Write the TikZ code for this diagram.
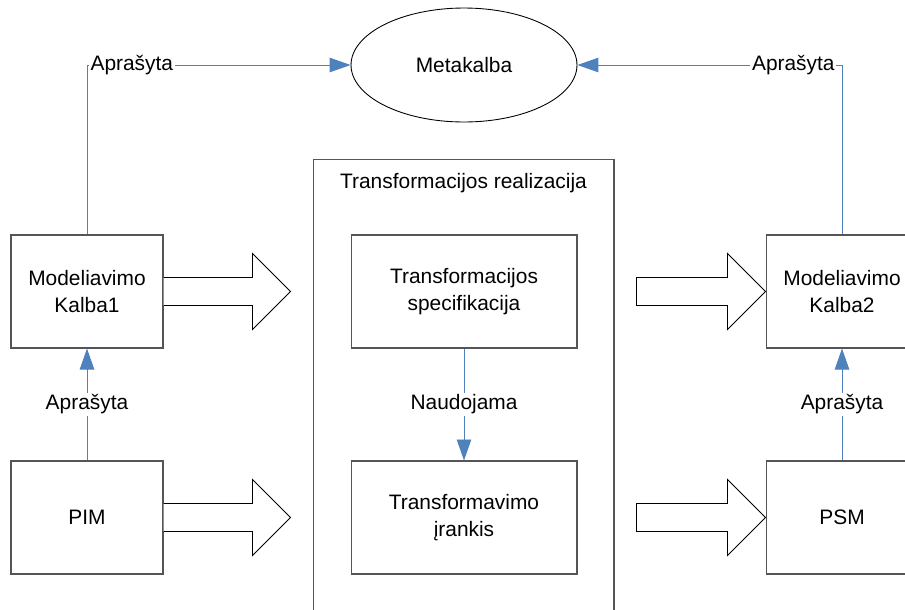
\documentclass[tikz,border=0pt]{standalone}
\usepackage{fontspec}
\setmainfont{Liberation Sans}
\usepackage{xcolor}
\usepackage{tikz}
\usetikzlibrary{arrows.meta,positioning,calc,shapes.geometric}
\definecolor{linkblue}{RGB}{79,129,189}
\definecolor{boxgray}{RGB}{85,85,85}

\begin{document}
\begin{tikzpicture}[x=0.02cm,y=-0.02cm,
  font=\fontsize{11.9}{15.3}\selectfont,
  box/.style={draw=boxgray,line width=0.6pt,align=center,minimum width=3.04cm,minimum height=2.26cm},
  widebox/.style={box,minimum width=4.52cm},
  link/.style={-{Triangle[length=0.42cm,width=0.29cm]},linkblue,line width=0.5pt},
  lbl/.style={fill=white,text=black,inner sep=1pt},
  blockarrow/.style={draw=black,line width=0.5pt,fill=white}]
  \useasboundingbox (0,0) rectangle (905,609);
  % outer frame of the realisation
  \node[draw=boxgray,line width=0.6pt,minimum width=6.02cm,minimum height=9.62cm] (realiz) at (463.5,399.5) {};
  \node (realiztitle) at (463.5,183) {Transformacijos realizacija};
  \node[draw=black,line width=0.5pt,ellipse,minimum width=4.52cm,minimum height=2.28cm] (meta) at (464,65) {Metakalba};
  \node[box] (kalba1) at (87,291.5) {Modeliavimo\\Kalba1};
  \node[box] (pim) at (87,517.5) {PIM};
  \node[widebox] (spec) at (464,291.5) {Transformacijos\\specifikacija};
  \node[widebox] (irankis) at (464,517.5) {Transformavimo\\įrankis};
  \node[box] (kalba2) at (842,291.5) {Modeliavimo\\Kalba2};
  \node[box] (psm) at (842,517.5) {PSM};
  % connectors
  \draw[link] (kalba1.north) |- node[lbl,pos=0.585] {Aprašyta} (meta.west);
  \draw[link] (kalba2.north) |- node[lbl,pos=0.592] {Aprašyta} (meta.east);
  \draw[link] (pim.north) -- node[lbl] {Aprašyta} (kalba1.south);
  \draw[link] (psm.north) -- node[lbl] {Aprašyta} (kalba2.south);
  \draw[link] (spec.south) -- node[lbl] {Naudojama} (irankis.north);
  % block arrows
  \draw[blockarrow] ($(kalba1.east)+(0,-14)$) -- ++(89,0) -- ++(0,-24) -- ++(38,38) -- ++(-38,38) -- ++(0,-24) -- ++(-89,0);
  \draw[blockarrow] ($(pim.east)+(0,-14)$) -- ++(89,0) -- ++(0,-24) -- ++(38,38) -- ++(-38,38) -- ++(0,-24) -- ++(-89,0);
  \draw[blockarrow] ($(kalba2.west)+(-129,-14)$) -- ++(91,0) -- ++(0,-24) -- ++(38,38) -- ++(-38,38) -- ++(0,-24) -- ++(-91,0) -- cycle;
  \draw[blockarrow] ($(psm.west)+(-129,-14)$) -- ++(91,0) -- ++(0,-24) -- ++(38,38) -- ++(-38,38) -- ++(0,-24) -- ++(-91,0) -- cycle;
\end{tikzpicture}
\end{document}
